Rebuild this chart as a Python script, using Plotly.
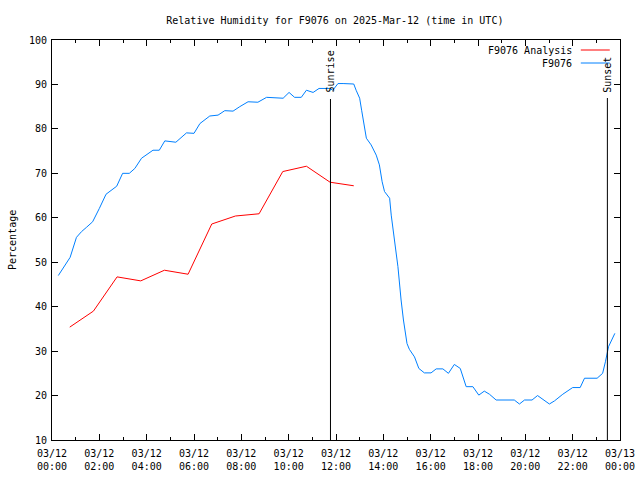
import plotly.graph_objects as go
from datetime import datetime, timedelta

BASE = datetime(2025, 3, 12, 0, 0)

# Observed F9076 relative humidity: minutes after 00:00 UTC, values in %
obs_minutes = [16, 46, 62, 75, 88, 103, 120, 137, 164, 179, 196, 210, 227, 256, 272, 286, 314, 341,
               360, 375, 400, 421, 438, 459, 476, 497, 522, 544, 586, 601, 615, 632, 645, 662, 677,
               704, 712, 725, 738, 765, 771, 780, 785, 793, 797, 809, 822, 830, 837, 843, 856, 860,
               868, 877, 885, 891, 900, 906, 919, 930, 944, 961, 974, 991, 1005, 1020, 1035, 1050,
               1067, 1082, 1096, 1109, 1126, 1172, 1185, 1198, 1217, 1231, 1261, 1274, 1295, 1320,
               1339, 1350, 1382, 1396, 1403, 1411, 1427]
obs_values = [47.0, 51.1, 55.6, 56.9, 57.9, 59.1, 62.1, 65.3, 67.1, 70.0, 70.0, 71.1, 73.4, 75.2, 75.2,
              77.3, 77.0, 79.1, 79.0, 81.2, 82.9, 83.1, 84.1, 84.0, 85.0, 86.1, 86.0, 87.1, 86.9, 88.2,
              87.1, 87.1, 88.7, 88.2, 89.1, 89.1, 88.7, 90.2, 90.2, 90.1, 88.7, 86.9, 84.2, 80.5, 77.9,
              76.4, 74.1, 71.9, 68.1, 65.9, 64.4, 60.6, 55.0, 49.0, 41.5, 37.0, 31.7, 30.4, 28.7, 26.1,
              25.1, 25.1, 26.0, 26.0, 25.0, 27.0, 26.1, 22.0, 22.0, 20.1, 21.0, 20.3, 19.0, 19.0, 18.1,
              19.0, 19.0, 20.0, 18.1, 18.8, 20.3, 21.8, 21.8, 23.9, 23.9, 25.0, 27.6, 31.0, 34.0]

# Analysis values: hourly at hh:45
ana_minutes = [45, 105, 165, 225, 285, 345, 405, 465, 525, 585, 645, 705, 765]
ana_values = [35.4, 39.0, 46.7, 45.8, 48.2, 47.3, 58.6, 60.4, 60.9, 70.4, 71.6, 68.0, 67.2]

sunrise_minute = 706
sunset_minute = 1408

y_ticks = [10, 20, 30, 40, 50, 60, 70, 80, 90, 100]

def t(m):
    return BASE + timedelta(minutes=m)

FONT = "DejaVu Sans Mono"

fig = go.Figure()
fig.add_trace(go.Scatter(x=[t(m) for m in ana_minutes], y=ana_values, mode="lines",
                         line=dict(color="#ff0000", width=1), name="F9076 Analysis"))
fig.add_trace(go.Scatter(x=[t(m) for m in obs_minutes], y=obs_values, mode="lines",
                         line=dict(color="#0080ff", width=1), name="F9076"))

# sunrise / sunset
for m, label, ytop, ytxt in [(sunrise_minute, "Sunrise", 0.8525, 0.9225),
                             (sunset_minute, "Sunset", 0.855, 0.914)]:
    fig.add_shape(type="line", xref="x", yref="paper", x0=t(m), x1=t(m), y0=0, y1=ytop,
                  line=dict(color="black", width=1))
    fig.add_annotation(x=t(m), y=ytxt, xref="x", yref="paper", text=label, textangle=-90,
                       showarrow=False, font=dict(family=FONT, size=10, color="black"),
                       xanchor="center", yanchor="middle")

# legend (text on left, sample on right)
for name, color, yp in [("F9076 Analysis", "#ff0000", 0.975), ("F9076", "#0080ff", 0.9425)]:
    fig.add_annotation(x=0.919, y=yp, xref="paper", yref="paper", text=name, showarrow=False,
                       xanchor="right", yanchor="middle",
                       font=dict(family=FONT, size=10, color="black"))
    fig.add_shape(type="line", xref="paper", yref="paper", x0=0.931, x1=0.982, y0=yp, y1=yp,
                  line=dict(color=color, width=1))

# y axis title
fig.add_annotation(x=-0.0704, y=0.5, xref="paper", yref="paper", text="Percentage",
                   textangle=-90, showarrow=False, xanchor="center", yanchor="middle",
                   font=dict(family=FONT, size=10, color="black"))

fig.update_layout(
    width=640, height=480,
    margin=dict(l=52, r=20, t=40, b=40),
    paper_bgcolor="white", plot_bgcolor="white",
    showlegend=False,
    font=dict(family=FONT, size=10, color="black"),
    title=dict(text="Relative Humidity for F9076 on 2025-Mar-12 (time in UTC)",
               x=0.498, xref="paper", y=1 - 20 / 480, yref="container",
               xanchor="center", yanchor="middle",
               font=dict(family=FONT, size=10, color="black")),
)
fig.update_xaxes(
    type="date", range=[t(0), t(1440)], automargin=False,
    tickmode="linear", tick0=t(0), dtick=2 * 3600 * 1000,
    tickformat="%m/%d<br>%H:%M",
    ticks="inside", ticklen=6, tickcolor="black",
    minor=dict(dtick=3600 * 1000, ticks="inside", ticklen=3, tickcolor="black"),
    showgrid=False, zeroline=False,
    showline=True, linecolor="black", linewidth=1, mirror="ticks",
    tickfont=dict(family=FONT, size=10, color="black"),
    ticklabelstandoff=4,
)
fig.update_yaxes(
    range=[10, 100], tickvals=y_ticks, automargin=False,
    ticks="inside", ticklen=6, tickcolor="black",
    showgrid=False, zeroline=False,
    showline=True, linecolor="black", linewidth=1, mirror="ticks",
    tickfont=dict(family=FONT, size=10, color="black"),
    ticklabelstandoff=2,
)

fig.write_html("out.html")
